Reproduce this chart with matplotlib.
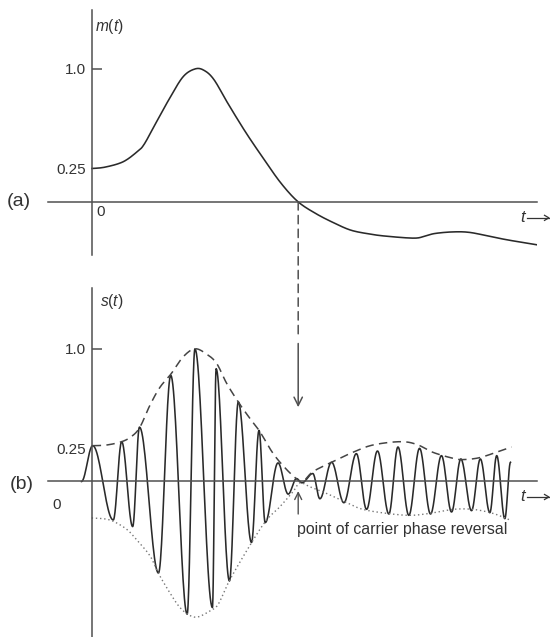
import numpy as np
import matplotlib
matplotlib.use("Agg")
import matplotlib.pyplot as plt
from matplotlib.patches import ConnectionPatch

plt.rcParams["font.family"] = ["Liberation Sans", "DejaVu Sans"]
plt.rcParams["mathtext.fontset"] = "custom"
plt.rcParams["mathtext.it"] = "Liberation Sans:italic"
plt.rcParams["mathtext.rm"] = "Liberation Sans"

# message m(t)
m_t = [0.00, 0.13, 0.31, 0.45, 0.52, 0.63, 0.77, 0.91, 1.03, 1.12, 1.22, 1.36,
       1.54, 1.72, 1.89, 2.06, 2.24, 2.42, 2.59, 2.77, 2.94, 3.22, 3.33, 3.43,
       3.61, 3.78, 4.00, 4.17, 4.45]
m_val = [0.25, 0.26, 0.30, 0.375, 0.43, 0.58, 0.77, 0.94, 1.00, 0.99, 0.92, 0.74,
         0.52, 0.32, 0.14, 0.0, -0.09, -0.16, -0.215, -0.243, -0.26, -0.275, -0.26,
         -0.24, -0.228, -0.232, -0.265, -0.29, -0.325]

# peaks and troughs of the modulated carrier s(t), panel (b)
s_t = [-0.105, 0.007, 0.213, 0.297, 0.407, 0.475, 0.665, 0.788, 0.952, 1.03,
       1.205, 1.242, 1.375, 1.464, 1.596, 1.671, 1.733, 1.861, 1.963, 2.046,
       2.10, 2.209, 2.28, 2.397, 2.52, 2.645, 2.747, 2.856, 2.97, 3.061, 3.17,
       3.277, 3.387, 3.496, 3.597, 3.69, 3.797, 3.885, 3.98, 4.049, 4.13, 4.187]
s_val = [0.0, 0.27, -0.29, 0.30, -0.34, 0.41, -0.69, 0.80, -1.0, 1.0,
         -0.95, 0.85, -0.75, 0.60, -0.46, 0.385, -0.31, 0.14, -0.095, 0.022,
         -0.01, 0.06, -0.13, 0.145, -0.16, 0.21, -0.21, 0.23, -0.245, 0.26, -0.255,
         0.25, -0.245, 0.195, -0.23, 0.17, -0.22, 0.17, -0.235, 0.195, -0.28, 0.145]

# upper (dashed) and lower (dotted) envelopes of s(t)
up_t = [0.007, 0.147, 0.297, 0.397, 0.48, 0.58, 0.68, 0.79, 0.913, 1.03, 1.147,
        1.247, 1.347, 1.463, 1.58, 1.68, 1.813, 1.947, 2.063, 2.113, 2.213, 2.413,
        2.61, 2.81, 3.08, 3.247, 3.41, 3.61, 3.71, 3.88, 4.08, 4.197]
up_val = [0.27, 0.275, 0.30, 0.34, 0.41, 0.575, 0.71, 0.81, 0.94, 1.0, 0.96,
          0.89, 0.74, 0.60, 0.475, 0.375, 0.21, 0.09, 0.01, 0.0, 0.075, 0.15,
          0.22, 0.275, 0.30, 0.28, 0.22, 0.175, 0.165, 0.18, 0.23, 0.26]
lo_t = [-0.003, 0.113, 0.213, 0.347, 0.447, 0.58, 0.663, 0.78, 0.88, 0.98, 1.063,
        1.18, 1.263, 1.38, 1.597, 1.747, 1.88, 2.013, 2.08, 2.18, 2.347, 2.547,
        2.71, 2.947, 3.18, 3.38, 3.61, 3.81, 4.01, 4.18]
lo_val = [-0.275, -0.28, -0.30, -0.36, -0.44, -0.56, -0.69, -0.84, -0.95, -1.01,
          -1.02, -0.975, -0.925, -0.74, -0.46, -0.29, -0.19, -0.075, -0.01, -0.04,
          -0.09, -0.16, -0.21, -0.24, -0.255, -0.24, -0.21, -0.21, -0.24, -0.29]

t_reversal = 2.063
ytick_vals = [0.25, 1.0]
ytick_labels = ["0.25", "1.0"]

INK = "#2a2a2a"
AXC = "#505050"
TXT = "#333333"


def smooth(xs, ys, n=16):
    """Catmull-Rom curve through the read points."""
    p = np.column_stack([xs, ys]).astype(float)
    p = np.vstack([p[0], p, p[-1]])
    u = np.linspace(0, 1, n, endpoint=False)[:, None]
    out = []
    for i in range(1, len(p) - 2):
        p0, p1, p2, p3 = p[i - 1], p[i], p[i + 1], p[i + 2]
        out.append(0.5 * (2 * p1 + (p2 - p0) * u
                          + (2 * p0 - 5 * p1 + 4 * p2 - p3) * u ** 2
                          + (3 * p1 - p0 - 3 * p2 + p3) * u ** 3))
    out.append(p[-2][None])
    r = np.vstack(out)
    return r[:, 0], r[:, 1]


def swing(ts, vs, n=24):
    """Half-cosine strokes between successive peaks and troughs."""
    u = np.linspace(0, 1, n, endpoint=False)
    w = (1 - np.cos(np.pi * u)) / 2
    xs, ys = [], []
    for i in range(len(ts) - 1):
        xs.append(ts[i] + (ts[i + 1] - ts[i]) * u)
        ys.append(vs[i] + (vs[i + 1] - vs[i]) * w)
    xs.append([ts[-1]])
    ys.append([vs[-1]])
    return np.concatenate(xs), np.concatenate(ys)


def setup(ax, ylim):
    ax.set_xlim(-0.436, 4.45)
    ax.set_ylim(*ylim)
    ax.patch.set_alpha(0)
    for side in ("top", "right"):
        ax.spines[side].set_visible(False)
    ax.spines["left"].set_position(("data", 0))
    ax.spines["bottom"].set_position(("data", 0))
    for side in ("left", "bottom"):
        ax.spines[side].set_color(AXC)
        ax.spines[side].set_linewidth(1.1)
    ax.set_xticks([])
    ax.set_yticks(ytick_vals)
    ax.set_yticklabels(ytick_labels)
    ax.tick_params(axis="y", direction="in", length=7.5, width=1.1, color=AXC,
                   pad=4, labelsize=11, labelcolor=TXT)
    ax.yaxis.get_major_ticks()[0].tick1line.set_visible(False)


fig = plt.figure(figsize=(5.5, 6.37), dpi=100)
ax1 = fig.add_axes([0.088, 0.5997, 0.888, 0.3841])
ax2 = fig.add_axes([0.088, 0.0, 0.888, 0.5474])
setup(ax1, (-0.402, 1.442))
setup(ax2, (-1.172, 1.456))

# (a) message
mx, my = smooth(m_t, m_val)
ax1.plot(mx, my, color=INK, lw=1.15)

# (b) DSB-SC signal with its envelopes
sx, sy = swing(s_t, s_val)
ax2.plot(sx, sy, color=INK, lw=1.15)
ux, uy = smooth(up_t, up_val)
ax2.plot(ux, uy, color="#444444", lw=1.1, dashes=(5.5, 3.5))
lx, ly = smooth(lo_t, lo_val)
ax2.plot(lx, ly, color="#777777", lw=1.0, ls=(0, (1, 2)))

# dashed drop line from the zero crossing of m(t)
con = ConnectionPatch(xyA=(t_reversal, 0), coordsA=ax1.transData,
                      xyB=(t_reversal, 1.08), coordsB=ax2.transData,
                      color=AXC, lw=1.1, linestyle=(0, (5.5, 3.5)))
fig.add_artist(con)
ax2.annotate("", xy=(t_reversal, 0.56), xytext=(t_reversal, 1.04),
             arrowprops=dict(arrowstyle="->,head_length=0.6,head_width=0.3",
                             color=AXC, lw=1.1, shrinkA=0, shrinkB=0))
ax2.annotate("", xy=(t_reversal, -0.072), xytext=(t_reversal, -0.245),
             arrowprops=dict(arrowstyle="->,head_length=0.5,head_width=0.25",
                             color=AXC, lw=1.0, shrinkA=0, shrinkB=0))
ax2.text(t_reversal - 0.01, -0.36, "point of carrier phase reversal",
         fontsize=11.4, color=TXT, ha="left", va="center")

# labels
fig.text(0.0127, 0.683, "(a)", fontsize=14, color=TXT, va="center")
fig.text(0.018, 0.240, "(b)", fontsize=14, color=TXT, va="center")
fig.text(0.1735, 0.959, "$m(t)$", fontsize=11.2, color=TXT, va="center")
fig.text(0.182, 0.527, "$s(t)$", fontsize=11.2, color=TXT, va="center")
fig.text(0.1745, 0.6677, "0", fontsize=11, color=TXT, va="center")
fig.text(0.0955, 0.2072, "0", fontsize=11, color=TXT, va="center")
for ypos in (0.658, 0.2198):
    fig.text(0.945, ypos, "$t$", fontsize=12, color=TXT, va="center")
    fig.add_artist(plt.Line2D([0.958, 0.998], [ypos, ypos], color=TXT,
                              lw=0.9))
    fig.add_artist(plt.Line2D([0.990, 0.998, 0.990],
                              [ypos + 0.004, ypos, ypos - 0.004],
                              color=TXT, lw=0.9))

fig.savefig("out.png", dpi=100, facecolor="white")
